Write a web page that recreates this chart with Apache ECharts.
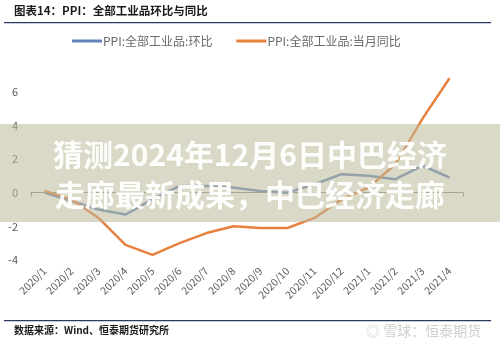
<!DOCTYPE html>
<html>
<head>
<meta charset="utf-8">
<script src="https://cdn.jsdelivr.net/npm/echarts@6/dist/echarts.min.js"></script>
<style>html,body{margin:0;padding:0;background:#fff}#c{width:500px;height:346px}</style>
</head>
<body>
<div id="c"></div>
<script>
var categories = ['2020/1','2020/2','2020/3','2020/4','2020/5','2020/6','2020/7','2020/8','2020/9','2020/10','2020/11','2020/12','2021/1','2021/2','2021/3','2021/4'];
var momValues = [0.0,-0.5,-1.0,-1.3,-0.4,0.4,0.4,0.3,0.1,0.0,0.5,1.1,1.0,0.8,1.6,0.9];
var yoyValues = [0.1,-0.4,-1.5,-3.1,-3.7,-3.0,-2.4,-2.0,-2.1,-2.1,-1.5,-0.4,0.3,1.7,4.4,6.8];
var seriesNames = ['PPI:全部工业品:环比','PPI:全部工业品:当月同比'];
var yTicks = [-4,-2,0,2,4,6];

var FONT = '"Noto Sans CJK SC","Noto Sans",sans-serif';
var chart = echarts.init(document.getElementById('c'), null, {renderer:'canvas'});
chart.setOption({
  animation:false,
  backgroundColor:'#fff',
  textStyle:{fontFamily:FONT},
  legend:{
    left:67, top:30, itemWidth:30, itemHeight:3, itemGap:24, icon:'rect',
    textStyle:{color:'#6a6a6a', fontSize:12, fontFamily:FONT, padding:[0,0,0,-4]},
    data:seriesNames
  },
  grid:{left:31, right:37, top:58, bottom:86},
  xAxis:[{
    type:'category', data:categories, boundaryGap:true, position:'bottom',
    axisLine:{show:false, onZero:false}, axisTick:{show:false},
    axisLabel:{rotate:45, fontSize:10.5, color:'#5a5a5a', margin:9, interval:0, fontFamily:FONT}
  },{
    type:'value', min:0, max:categories.length, interval:categories.length, position:'bottom',
    axisLine:{show:true, onZero:true, lineStyle:{color:'#8c8c8c', width:1}},
    axisTick:{show:true, length:4, inside:false, lineStyle:{color:'#8c8c8c'}},
    axisLabel:{show:false}, splitLine:{show:false}
  }],
  yAxis:{
    type:'value', min:-4, max:8, interval:2,
    axisLine:{show:false}, axisTick:{show:false}, splitLine:{show:false},
    axisLabel:{color:'#5a5a5a', fontSize:11, margin:13, fontFamily:FONT,
      formatter:function(v){return yTicks.indexOf(v)>=0 ? String(v) : '';}}
  },
  series:[{
    name:seriesNames[0], type:'line', data:momValues, xAxisIndex:0,
    symbol:'none', lineStyle:{color:'#6284bb', width:2.5}, itemStyle:{color:'#6284bb'}, z:3
  },{
    name:seriesNames[1], type:'line', data:yoyValues, xAxisIndex:0,
    symbol:'none', lineStyle:{color:'#e8813d', width:2.5}, itemStyle:{color:'#e8813d'}, z:4
  }],
  graphic:[
    {type:'text', left:14, top:5, style:{text:'图表14：PPI：全部工业品环比与同比', fill:'#1a1a1a', font:'bold 11.5px '+FONT}},
    {type:'rect', shape:{x:4, y:22, width:487, height:1.3}, style:{fill:'#2c3a5e'}},
    {type:'rect', shape:{x:4, y:320, width:487, height:1.3}, style:{fill:'#2c3a5e'}},
    {type:'text', left:14, top:325, style:{text:'数据来源：Wind、恒泰期货研究所', fill:'#1a1a1a', font:'bold 10px '+FONT}},
    {type:'text', left:366, top:324, style:{text:'◎ 雪球：恒泰期货', fill:'#cfcfcf', font:'14px '+FONT}},
    {type:'rect', z:100, shape:{x:0, y:124, width:500, height:98}, style:{fill:'rgba(188,186,155,0.55)'}},
    {type:'text', z:101, left:'center', top:140, style:{text:'猜测2024年12月6日中巴经济', fill:'rgba(255,255,255,0.95)', font:'bold 30px '+FONT}},
    {type:'text', z:101, left:'center', top:180, style:{text:'走廊最新成果，中巴经济走廊', fill:'rgba(255,255,255,0.95)', font:'bold 30px '+FONT}}
  ]
});
</script>
</body>
</html>
